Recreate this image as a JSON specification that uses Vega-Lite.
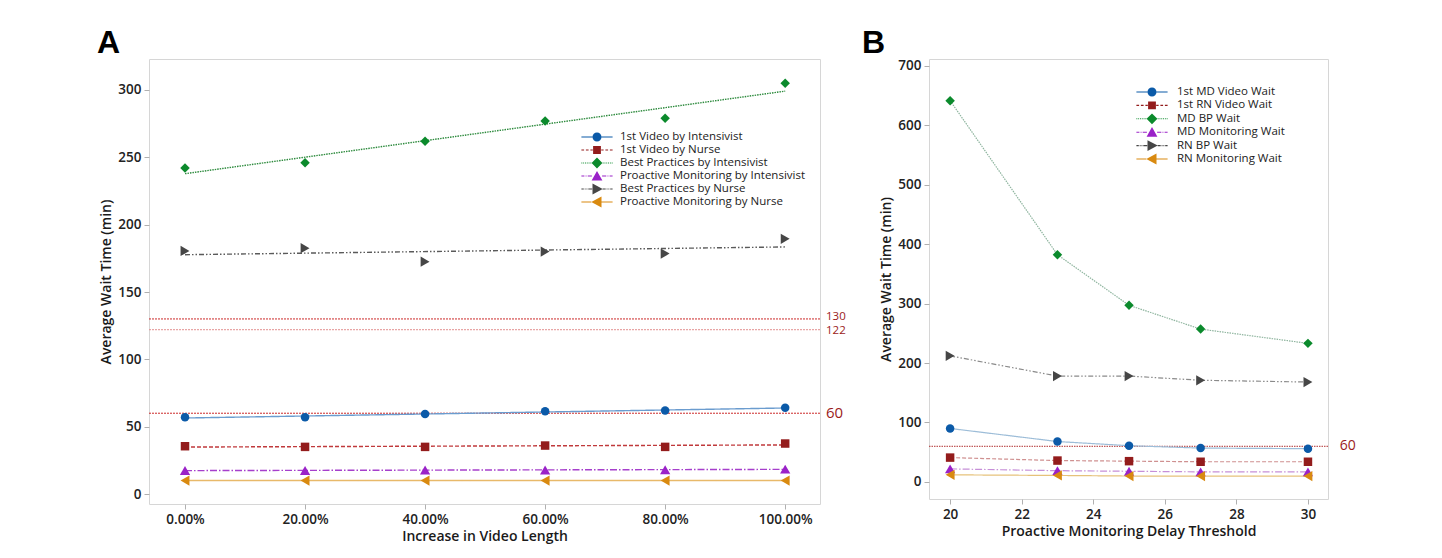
{
  "$schema": "https://vega.github.io/schema/vega-lite/v6.json",
  "background": "white",
  "padding": {"left": 96, "top": 26, "right": 5, "bottom": 5},
  "spacing": 14,
  "config": {
    "font": "Open Sans",
    "view": {"stroke": "#d6d6d6", "strokeWidth": 1},
    "axis": {"domain": false, "grid": false, "tickColor": "#b0b0b0", "tickSize": 5, "labelFont": "Open Sans", "labelFontSize": 13.5, "labelFontWeight": 600, "labelColor": "#222", "titleFont": "Open Sans", "titleFontSize": 14, "titleFontWeight": 600, "titleColor": "#1a1a1a", "labelPadding": 3}
  },
  "datasets": {
    "a": [
      {"series": "1st Video by Intensivist", "x": 0, "wait": 57},
      {"series": "1st Video by Intensivist", "x": 0.2, "wait": 57},
      {"series": "1st Video by Intensivist", "x": 0.4, "wait": 59.5},
      {"series": "1st Video by Intensivist", "x": 0.6, "wait": 61.5},
      {"series": "1st Video by Intensivist", "x": 0.8, "wait": 62},
      {"series": "1st Video by Intensivist", "x": 1, "wait": 64},
      {"series": "1st Video by Nurse", "x": 0, "wait": 35.5},
      {"series": "1st Video by Nurse", "x": 0.2, "wait": 35},
      {"series": "1st Video by Nurse", "x": 0.4, "wait": 35},
      {"series": "1st Video by Nurse", "x": 0.6, "wait": 36},
      {"series": "1st Video by Nurse", "x": 0.8, "wait": 35},
      {"series": "1st Video by Nurse", "x": 1, "wait": 37.5},
      {"series": "Best Practices by Intensivist", "x": 0, "wait": 242},
      {"series": "Best Practices by Intensivist", "x": 0.2, "wait": 246},
      {"series": "Best Practices by Intensivist", "x": 0.4, "wait": 262},
      {"series": "Best Practices by Intensivist", "x": 0.6, "wait": 277},
      {"series": "Best Practices by Intensivist", "x": 0.8, "wait": 279},
      {"series": "Best Practices by Intensivist", "x": 1, "wait": 305},
      {"series": "Proactive Monitoring by Intensivist", "x": 0, "wait": 17.5},
      {"series": "Proactive Monitoring by Intensivist", "x": 0.2, "wait": 17.5},
      {"series": "Proactive Monitoring by Intensivist", "x": 0.4, "wait": 17.8},
      {"series": "Proactive Monitoring by Intensivist", "x": 0.6, "wait": 17.8},
      {"series": "Proactive Monitoring by Intensivist", "x": 0.8, "wait": 18},
      {"series": "Proactive Monitoring by Intensivist", "x": 1, "wait": 18.5},
      {"series": "Best Practices by Nurse", "x": 0, "wait": 180.5},
      {"series": "Best Practices by Nurse", "x": 0.2, "wait": 182.5},
      {"series": "Best Practices by Nurse", "x": 0.4, "wait": 172.5},
      {"series": "Best Practices by Nurse", "x": 0.6, "wait": 180},
      {"series": "Best Practices by Nurse", "x": 0.8, "wait": 178.5},
      {"series": "Best Practices by Nurse", "x": 1, "wait": 189.5},
      {"series": "Proactive Monitoring by Nurse", "x": 0, "wait": 10},
      {"series": "Proactive Monitoring by Nurse", "x": 0.2, "wait": 10},
      {"series": "Proactive Monitoring by Nurse", "x": 0.4, "wait": 10},
      {"series": "Proactive Monitoring by Nurse", "x": 0.6, "wait": 10},
      {"series": "Proactive Monitoring by Nurse", "x": 0.8, "wait": 10},
      {"series": "Proactive Monitoring by Nurse", "x": 1, "wait": 10}
    ],
    "b": [
      {"series": "1st MD Video Wait", "x": 20, "wait": 90},
      {"series": "1st MD Video Wait", "x": 23, "wait": 68},
      {"series": "1st MD Video Wait", "x": 25, "wait": 61},
      {"series": "1st MD Video Wait", "x": 27, "wait": 57},
      {"series": "1st MD Video Wait", "x": 30, "wait": 56},
      {"series": "1st RN Video Wait", "x": 20, "wait": 41},
      {"series": "1st RN Video Wait", "x": 23, "wait": 36},
      {"series": "1st RN Video Wait", "x": 25, "wait": 35},
      {"series": "1st RN Video Wait", "x": 27, "wait": 34},
      {"series": "1st RN Video Wait", "x": 30, "wait": 34},
      {"series": "MD BP Wait", "x": 20, "wait": 641},
      {"series": "MD BP Wait", "x": 23, "wait": 382},
      {"series": "MD BP Wait", "x": 25, "wait": 297},
      {"series": "MD BP Wait", "x": 27, "wait": 257},
      {"series": "MD BP Wait", "x": 30, "wait": 233},
      {"series": "MD Monitoring Wait", "x": 20, "wait": 22},
      {"series": "MD Monitoring Wait", "x": 23, "wait": 19},
      {"series": "MD Monitoring Wait", "x": 25, "wait": 18},
      {"series": "MD Monitoring Wait", "x": 27, "wait": 17},
      {"series": "MD Monitoring Wait", "x": 30, "wait": 17},
      {"series": "RN BP Wait", "x": 20, "wait": 212},
      {"series": "RN BP Wait", "x": 23, "wait": 178},
      {"series": "RN BP Wait", "x": 25, "wait": 178},
      {"series": "RN BP Wait", "x": 27, "wait": 171},
      {"series": "RN BP Wait", "x": 30, "wait": 168},
      {"series": "RN Monitoring Wait", "x": 20, "wait": 12},
      {"series": "RN Monitoring Wait", "x": 23, "wait": 11},
      {"series": "RN Monitoring Wait", "x": 25, "wait": 10},
      {"series": "RN Monitoring Wait", "x": 27, "wait": 10},
      {"series": "RN Monitoring Wait", "x": 30, "wait": 10}
    ],
    "refA": [{"wait": 130}, {"wait": 122}, {"wait": 60}],
    "refB": [{"wait": 60}]
  },
  "resolve": {
    "scale": {"x": "independent", "y": "independent", "color": "independent", "fill": "independent", "stroke": "independent", "shape": "independent", "strokeDash": "independent"},
    "legend": {"color": "independent", "shape": "independent"}
  },
  "hconcat": [
    {
      "width": 671,
      "height": 445,
      "title": {"text": "A", "anchor": "start", "frame": "group", "dx": -52, "offset": -1, "fontSize": 32, "font": "Liberation Sans", "fontWeight": "bold", "color": "#000"},
      "resolve": {"scale": {"shape": "independent"}},
      "layer": [
        {
          "data": {"name": "refA"},
          "mark": {"type": "rule", "strokeDash": [2, 1], "strokeWidth": 1},
          "encoding": {
            "y": {"field": "wait", "type": "quantitative", "title": "Average Wait Time (min)", "scale": {"domain": [-7.4, 323], "nice": false, "zero": false}},
            "stroke": {"condition": {"test": "datum.wait === 122", "value": "#e39090"}, "value": "#cc2a2a"}
          }
        },
        {
          "data": {"name": "refA"},
          "transform": [{"filter": "datum.wait === 130"}],
          "mark": {"type": "text", "align": "left", "baseline": "middle", "color": "#9b1b1b", "font": "Open Sans", "fontSize": 11.5, "dy": -1.5},
          "encoding": {
            "x": {"datum": 1.068, "type": "quantitative", "title": "Increase in Video Length"},
            "y": {"field": "wait", "type": "quantitative", "title": "Average Wait Time (min)"},
            "text": {"field": "wait", "type": "quantitative"}
          }
        },
        {
          "data": {"name": "refA"},
          "transform": [{"filter": "datum.wait === 122"}],
          "mark": {"type": "text", "align": "left", "baseline": "middle", "color": "#9b1b1b", "font": "Open Sans", "fontSize": 11.5, "dy": 1.5},
          "encoding": {
            "x": {"datum": 1.068, "type": "quantitative", "title": "Increase in Video Length"},
            "y": {"field": "wait", "type": "quantitative", "title": "Average Wait Time (min)"},
            "text": {"field": "wait", "type": "quantitative"}
          }
        },
        {
          "data": {"name": "refA"},
          "transform": [{"filter": "datum.wait === 60"}],
          "mark": {"type": "text", "align": "left", "baseline": "middle", "color": "#9b1b1b", "font": "Open Sans", "fontSize": 15},
          "encoding": {
            "x": {"datum": 1.068, "type": "quantitative", "title": "Increase in Video Length"},
            "y": {"field": "wait", "type": "quantitative", "title": "Average Wait Time (min)"},
            "text": {"field": "wait", "type": "quantitative"}
          }
        },
        {
          "data": {"name": "a"},
          "transform": [{"regression": "wait", "on": "x", "groupby": ["series"]}],
          "mark": {"type": "line", "strokeWidth": 1.4},
          "encoding": {
            "x": {"field": "x", "type": "quantitative", "title": "Increase in Video Length"},
            "y": {"field": "wait", "type": "quantitative", "title": "Average Wait Time (min)"},
            "stroke": {"field": "series", "type": "nominal", "legend": null, "scale": {"domain": ["1st Video by Intensivist", "1st Video by Nurse", "Best Practices by Intensivist", "Proactive Monitoring by Intensivist", "Best Practices by Nurse", "Proactive Monitoring by Nurse"], "range": ["#6b9ccf", "#c0393b", "#2e8b3e", "#a63fcc", "#5a5a5a", "#e8b96a"]}},
            "strokeDash": {"field": "series", "type": "nominal", "legend": null, "scale": {"domain": ["1st Video by Intensivist", "1st Video by Nurse", "Best Practices by Intensivist", "Proactive Monitoring by Intensivist", "Best Practices by Nurse", "Proactive Monitoring by Nurse"], "range": [[1, 0], [4, 2], [1.5, 1], [7, 2, 1.5, 2], [5, 2, 1.5, 2, 1.5, 2], [1, 0]]}}
          }
        },
        {
          "data": {"name": "a"},
          "mark": {"type": "point", "filled": true, "opacity": 1},
          "encoding": {
            "x": {"field": "x", "type": "quantitative", "title": "Increase in Video Length", "scale": {"domain": [-0.06, 1.058], "nice": false, "zero": false}, "axis": {"values": [0, 0.2, 0.4, 0.6, 0.8, 1], "format": ".2%"}},
            "y": {"field": "wait", "type": "quantitative", "title": "Average Wait Time (min)", "axis": {"values": [0, 50, 100, 150, 200, 250, 300]}},
            "fill": {"field": "series", "type": "nominal", "legend": null, "scale": {"domain": ["1st Video by Intensivist", "1st Video by Nurse", "Best Practices by Intensivist", "Proactive Monitoring by Intensivist", "Best Practices by Nurse", "Proactive Monitoring by Nurse"], "range": ["#0b5aa8", "#931c1c", "#0b8a2c", "#9a22c8", "#464646", "#d98a10"]}},
            "shape": {"field": "series", "type": "nominal", "legend": null, "scale": {"domain": ["1st Video by Intensivist", "1st Video by Nurse", "Best Practices by Intensivist", "Proactive Monitoring by Intensivist", "Best Practices by Nurse", "Proactive Monitoring by Nurse"], "range": ["circle", "square", "diamond", "triangle-up", "triangle-right", "triangle-left"]}},
            "size": {"condition": [
              {"test": "datum.series === 'Proactive Monitoring by Intensivist' || datum.series === 'Best Practices by Nurse' || datum.series === 'Proactive Monitoring by Nurse'", "value": 105},
              {"test": "datum.series === 'Best Practices by Intensivist'", "value": 90}
            ], "value": 72}
          }
        },
        {
          "data": {"name": "a"},
          "mark": {"type": "point", "filled": true, "size": 0, "strokeOpacity": 0, "strokeWidth": 0,
            "fill": {"expr": "(datum.value || datum.series) === '1st Video by Nurse' ? '#931c1c' : (datum.value || datum.series) === 'Best Practices by Intensivist' ? '#0b8a2c' : (datum.value || datum.series) === 'Proactive Monitoring by Intensivist' ? '#9a22c8' : (datum.value || datum.series) === 'Best Practices by Nurse' ? '#464646' : (datum.value || datum.series) === 'Proactive Monitoring by Nurse' ? '#d98a10' : '#0b5aa8'"}},
          "encoding": {
            "x": {"field": "x", "type": "quantitative", "title": "Increase in Video Length"},
            "y": {"field": "wait", "type": "quantitative", "title": "Average Wait Time (min)"},
            "shape": {"field": "series", "type": "nominal", "scale": {"domain": ["1st Video by Intensivist", "1st Video by Nurse", "Best Practices by Intensivist", "Proactive Monitoring by Intensivist", "Best Practices by Nurse", "Proactive Monitoring by Nurse"], "range": [
              "M-2.6,-0.09H-0.75V0.09H-2.6Z M0.75,-0.09H2.6V0.09H0.75Z M-0.75,0A0.75,0.75,0,1,1,0.75,0A0.75,0.75,0,1,1,-0.75,0Z",
              "M-2.6,-0.09H-2.15V0.09H-2.6Z M-1.85,-0.09H-1.4V0.09H-1.85Z M-1.1,-0.09H-0.7V0.09H-1.1Z M0.7,-0.09H1.1V0.09H0.7Z M1.4,-0.09H1.85V0.09H1.4Z M2.15,-0.09H2.6V0.09H2.15Z M-0.65,-0.65H0.65V0.65H-0.65Z",
              "M-2.6,-0.09H-2.45V0.09H-2.6Z M-2.3,-0.09H-2.15V0.09H-2.3Z M-2,-0.09H-1.85V0.09H-2Z M-1.7,-0.09H-1.55V0.09H-1.7Z M-1.4,-0.09H-1.25V0.09H-1.4Z M-1.1,-0.09H-0.95V0.09H-1.1Z M0.95,-0.09H1.1V0.09H0.95Z M1.25,-0.09H1.4V0.09H1.25Z M1.55,-0.09H1.7V0.09H1.55Z M1.85,-0.09H2V0.09H1.85Z M2.15,-0.09H2.3V0.09H2.15Z M2.45,-0.09H2.6V0.09H2.45Z M0,-0.9L0.9,0L0,0.9L-0.9,0Z",
              "M-2.6,-0.09H-2.1V0.09H-2.6Z M-1.9,-0.09H-1.75V0.09H-1.9Z M-1.55,-0.09H-0.85V0.09H-1.55Z M0.85,-0.09H1.55V0.09H0.85Z M1.75,-0.09H1.9V0.09H1.75Z M2.1,-0.09H2.6V0.09H2.1Z M0,-0.85L0.9,0.75H-0.9Z",
              "M-2.6,-0.09H-2.2V0.09H-2.6Z M-2.05,-0.09H-1.9V0.09H-2.05Z M-1.75,-0.09H-1.6V0.09H-1.75Z M-1.45,-0.09H-0.8V0.09H-1.45Z M0.95,-0.09H1.45V0.09H0.95Z M1.6,-0.09H1.75V0.09H1.6Z M1.9,-0.09H2.05V0.09H1.9Z M2.2,-0.09H2.6V0.09H2.2Z M-0.75,-0.9L0.95,0L-0.75,0.9Z",
              "M-2.6,-0.09H-0.95V0.09H-2.6Z M0.75,-0.09H2.6V0.09H0.75Z M0.75,-0.9L-0.95,0L0.75,0.9Z"
            ]},
              "legend": {"orient": "none", "legendX": 442, "legendY": 72, "title": null, "symbolSize": 144, "symbolStrokeWidth": 0, "symbolOpacity": 1, "labelOffset": 17, "labelFontSize": 11.5, "labelFont": "Open Sans", "labelColor": "#222", "labelLimit": 400, "rowPadding": 1, "padding": 0}}
          }
        }
      ]
    },
    {
      "width": 399,
      "height": 440,
      "title": {"text": "B", "anchor": "start", "frame": "group", "dx": -67, "offset": -1, "fontSize": 32, "font": "Liberation Sans", "fontWeight": "bold", "color": "#000"},
      "resolve": {"scale": {"shape": "independent"}},
      "layer": [
        {
          "data": {"name": "refB"},
          "mark": {"type": "rule", "strokeDash": [1.5, 1], "strokeWidth": 1, "color": "#b03030"},
          "encoding": {
            "y": {"field": "wait", "type": "quantitative", "title": "Average Wait Time (min)", "scale": {"domain": [-28.6, 711], "nice": false, "zero": false}}
          }
        },
        {
          "data": {"name": "refB"},
          "mark": {"type": "text", "align": "left", "baseline": "middle", "color": "#9b1b1b", "font": "Open Sans", "fontSize": 14},
          "encoding": {
            "x": {"datum": 30.89, "type": "quantitative", "title": "Proactive Monitoring Delay Threshold"},
            "y": {"field": "wait", "type": "quantitative", "title": "Average Wait Time (min)"},
            "text": {"field": "wait", "type": "quantitative"}
          }
        },
        {
          "data": {"name": "b"},
          "mark": {"type": "line", "strokeWidth": 1.2},
          "encoding": {
            "x": {"field": "x", "type": "quantitative", "title": "Proactive Monitoring Delay Threshold"},
            "y": {"field": "wait", "type": "quantitative", "title": "Average Wait Time (min)"},
            "stroke": {"field": "series", "type": "nominal", "legend": null, "scale": {"domain": ["1st MD Video Wait", "1st RN Video Wait", "MD BP Wait", "MD Monitoring Wait", "RN BP Wait", "RN Monitoring Wait"], "range": ["#9dbdd8", "#cf9090", "#8fb59f", "#c68fd8", "#8a8a8a", "#e6c27a"]}},
            "strokeDash": {"field": "series", "type": "nominal", "legend": null, "scale": {"domain": ["1st MD Video Wait", "1st RN Video Wait", "MD BP Wait", "MD Monitoring Wait", "RN BP Wait", "RN Monitoring Wait"], "range": [[1, 0], [4, 2], [1.5, 1], [7, 2, 1.5, 2], [5, 2, 1.5, 2, 1.5, 2], [1, 0]]}}
          }
        },
        {
          "data": {"name": "b"},
          "mark": {"type": "point", "filled": true, "opacity": 1},
          "encoding": {
            "x": {"field": "x", "type": "quantitative", "title": "Proactive Monitoring Delay Threshold", "scale": {"domain": [19.41, 30.56], "nice": false, "zero": false}, "axis": {"values": [20, 22, 24, 26, 28, 30]}},
            "y": {"field": "wait", "type": "quantitative", "title": "Average Wait Time (min)", "axis": {"values": [0, 100, 200, 300, 400, 500, 600, 700]}},
            "fill": {"field": "series", "type": "nominal", "legend": null, "scale": {"domain": ["1st MD Video Wait", "1st RN Video Wait", "MD BP Wait", "MD Monitoring Wait", "RN BP Wait", "RN Monitoring Wait"], "range": ["#0b5aa8", "#931c1c", "#0b8a2c", "#9a22c8", "#464646", "#d98a10"]}},
            "shape": {"field": "series", "type": "nominal", "legend": null, "scale": {"domain": ["1st MD Video Wait", "1st RN Video Wait", "MD BP Wait", "MD Monitoring Wait", "RN BP Wait", "RN Monitoring Wait"], "range": ["circle", "square", "diamond", "triangle-up", "triangle-right", "triangle-left"]}},
            "size": {"condition": [
              {"test": "datum.series === 'MD Monitoring Wait' || datum.series === 'RN BP Wait' || datum.series === 'RN Monitoring Wait'", "value": 105},
              {"test": "datum.series === 'MD BP Wait'", "value": 90}
            ], "value": 72}
          }
        },
        {
          "data": {"name": "b"},
          "mark": {"type": "point", "filled": true, "size": 0, "strokeOpacity": 0, "strokeWidth": 0,
            "fill": {"expr": "(datum.value || datum.series) === '1st RN Video Wait' ? '#931c1c' : (datum.value || datum.series) === 'MD BP Wait' ? '#0b8a2c' : (datum.value || datum.series) === 'MD Monitoring Wait' ? '#9a22c8' : (datum.value || datum.series) === 'RN BP Wait' ? '#464646' : (datum.value || datum.series) === 'RN Monitoring Wait' ? '#d98a10' : '#0b5aa8'"}},
          "encoding": {
            "x": {"field": "x", "type": "quantitative", "title": "Proactive Monitoring Delay Threshold"},
            "y": {"field": "wait", "type": "quantitative", "title": "Average Wait Time (min)"},
            "shape": {"field": "series", "type": "nominal", "scale": {"domain": ["1st MD Video Wait", "1st RN Video Wait", "MD BP Wait", "MD Monitoring Wait", "RN BP Wait", "RN Monitoring Wait"], "range": [
              "M-2.6,-0.09H-0.75V0.09H-2.6Z M0.75,-0.09H2.6V0.09H0.75Z M-0.75,0A0.75,0.75,0,1,1,0.75,0A0.75,0.75,0,1,1,-0.75,0Z",
              "M-2.6,-0.09H-2.15V0.09H-2.6Z M-1.85,-0.09H-1.4V0.09H-1.85Z M-1.1,-0.09H-0.7V0.09H-1.1Z M0.7,-0.09H1.1V0.09H0.7Z M1.4,-0.09H1.85V0.09H1.4Z M2.15,-0.09H2.6V0.09H2.15Z M-0.65,-0.65H0.65V0.65H-0.65Z",
              "M-2.6,-0.09H-2.45V0.09H-2.6Z M-2.3,-0.09H-2.15V0.09H-2.3Z M-2,-0.09H-1.85V0.09H-2Z M-1.7,-0.09H-1.55V0.09H-1.7Z M-1.4,-0.09H-1.25V0.09H-1.4Z M-1.1,-0.09H-0.95V0.09H-1.1Z M0.95,-0.09H1.1V0.09H0.95Z M1.25,-0.09H1.4V0.09H1.25Z M1.55,-0.09H1.7V0.09H1.55Z M1.85,-0.09H2V0.09H1.85Z M2.15,-0.09H2.3V0.09H2.15Z M2.45,-0.09H2.6V0.09H2.45Z M0,-0.9L0.9,0L0,0.9L-0.9,0Z",
              "M-2.6,-0.09H-2.1V0.09H-2.6Z M-1.9,-0.09H-1.75V0.09H-1.9Z M-1.55,-0.09H-0.85V0.09H-1.55Z M0.85,-0.09H1.55V0.09H0.85Z M1.75,-0.09H1.9V0.09H1.75Z M2.1,-0.09H2.6V0.09H2.1Z M0,-0.85L0.9,0.75H-0.9Z",
              "M-2.6,-0.09H-2.2V0.09H-2.6Z M-2.05,-0.09H-1.9V0.09H-2.05Z M-1.75,-0.09H-1.6V0.09H-1.75Z M-1.45,-0.09H-0.8V0.09H-1.45Z M0.95,-0.09H1.45V0.09H0.95Z M1.6,-0.09H1.75V0.09H1.6Z M1.9,-0.09H2.05V0.09H1.9Z M2.2,-0.09H2.6V0.09H2.2Z M-0.75,-0.9L0.95,0L-0.75,0.9Z",
              "M-2.6,-0.09H-0.95V0.09H-2.6Z M0.75,-0.09H2.6V0.09H0.75Z M0.75,-0.9L-0.95,0L0.75,0.9Z"
            ]},
              "legend": {"orient": "none", "legendX": 217, "legendY": 27, "title": null, "symbolSize": 144, "symbolStrokeWidth": 0, "symbolOpacity": 1, "labelOffset": 19, "labelFontSize": 11.5, "labelFont": "Open Sans", "labelColor": "#222", "labelLimit": 400, "rowPadding": 1.4, "padding": 0}}
          }
        }
      ]
    }
  ]
}
